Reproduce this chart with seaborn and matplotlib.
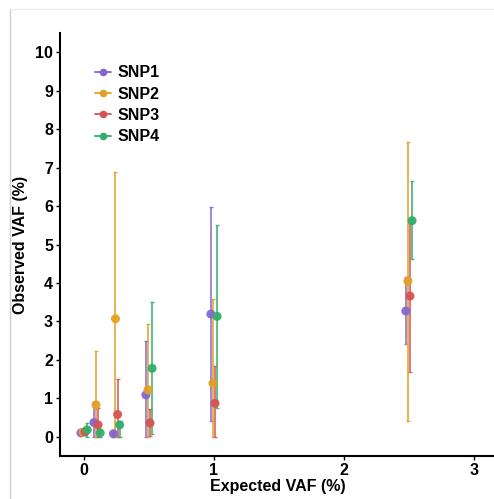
import numpy as np
import pandas as pd
import matplotlib
matplotlib.use("Agg")
import matplotlib.pyplot as plt
from matplotlib.lines import Line2D
import seaborn as sns

# Expected VAF levels (%) and the four SNPs
expected = [0, 0.1, 0.25, 0.5, 1, 2.5]
snps = ["SNP1", "SNP2", "SNP3", "SNP4"]

# Observed VAF (%) means, lower and upper limits per SNP
snp1_mean = [0.10, 0.37, 0.08, 1.09, 3.19, 3.27]
snp1_low = [0.05, 0.00, 0.00, 0.00, 0.42, 2.41]
snp1_high = [0.15, 0.90, 0.12, 2.48, 5.98, 4.16]

snp2_mean = [0.12, 0.83, 3.07, 1.22, 1.39, 4.05]
snp2_low = [0.05, 0.00, 0.00, 0.00, 0.00, 0.42]
snp2_high = [0.18, 2.23, 6.88, 2.93, 3.59, 7.67]

snp3_mean = [0.13, 0.31, 0.58, 0.36, 0.87, 3.66]
snp3_low = [0.05, 0.00, 0.00, 0.03, 0.00, 1.68]
snp3_high = [0.20, 0.75, 1.50, 0.72, 1.84, 5.55]

snp4_mean = [0.18, 0.10, 0.31, 1.78, 3.13, 5.62]
snp4_low = [0.00, 0.00, 0.00, 0.08, 0.75, 4.62]
snp4_high = [0.35, 0.20, 0.40, 3.51, 5.52, 6.65]

y_ticks = [0, 1, 2, 3, 4, 5, 6, 7, 8, 9, 10]
x_ticks = [0, 1, 2, 3]

palette = {"SNP1": "#8766CF", "SNP2": "#E1A225", "SNP3": "#D65353", "SNP4": "#33AE6A"}

means = [snp1_mean, snp2_mean, snp3_mean, snp4_mean]
lows = [snp1_low, snp2_low, snp3_low, snp4_low]
highs = [snp1_high, snp2_high, snp3_high, snp4_high]

rows = []
dodge_step = 0.016
for i, snp in enumerate(snps):
    off = (i - 1.5) * dodge_step
    for j, ev in enumerate(expected):
        rows.append({"snp": snp, "expected": ev, "x": ev + off,
                     "obs": means[i][j], "low": lows[i][j], "high": highs[i][j]})
df = pd.DataFrame(rows)

sns.set_theme(style="white")
plt.rcParams["font.family"] = ["Liberation Sans", "DejaVu Sans"]
plt.rcParams["font.weight"] = "bold"
for key in ["text.color", "axes.labelcolor", "xtick.color", "ytick.color"]:
    plt.rcParams[key] = "black"

fig = plt.figure(figsize=(4.94, 4.99), dpi=100)
W, H = 494, 499
ax = fig.add_axes([60 / W, 1 - 456 / H, 436 / W, (456 - 33) / H])

# outer frame lines of the panel
fig.add_artist(Line2D([10 / W, 10 / W], [0, 1 - 9 / H], transform=fig.transFigure,
                      color="#cfcfcf", lw=1.0))
fig.add_artist(Line2D([10 / W, 1.01], [1 - 9 / H, 1 - 9 / H], transform=fig.transFigure,
                      color="#ececec", lw=1.0))

for snp in snps:
    d = df[df["snp"] == snp]
    ax.errorbar(d["x"], d["obs"],
                yerr=[d["obs"] - d["low"], d["high"] - d["obs"]],
                fmt="none", ecolor=palette[snp], elinewidth=1.3, capsize=1.6,
                capthick=1.0, alpha=0.85, zorder=2)

sns.scatterplot(data=df, x="x", y="obs", hue="snp", palette=palette,
                s=42, edgecolor="none", alpha=0.95, legend=False, ax=ax, zorder=3)

ax.set_xlim(-0.185, 3.17)
ax.set_ylim(-0.5, 10.5)
ax.set_xticks(x_ticks)
ax.set_xticklabels([str(t) for t in x_ticks])
ax.set_yticks(y_ticks)
ax.set_yticklabels([str(t) for t in y_ticks])
ax.tick_params(axis="both", labelsize=11.5, length=3, width=1, colors="black",
               direction="out", bottom=True, left=True, pad=2)
for lab in ax.get_xticklabels() + ax.get_yticklabels():
    lab.set_fontweight("bold")
ax.set_xlabel("Expected VAF (%)", fontsize=11.5, fontweight="bold", labelpad=1,
              color="black")
ax.set_ylabel("Observed VAF (%)", fontsize=11.5, fontweight="bold", labelpad=5,
              color="black")

sns.despine(ax=ax)
for side in ["left", "bottom"]:
    ax.spines[side].set_color("black")
    ax.spines[side].set_linewidth(1.5)

handles = [Line2D([0], [0], color=palette[s], lw=1.3, marker="o", markersize=5.5,
                  markeredgecolor="none") for s in snps]
leg = ax.legend(handles, snps, loc="upper left", bbox_to_anchor=(0.048, 0.958),
                frameon=False, handlelength=1.0, handletextpad=0.4,
                labelspacing=0.4, prop={"weight": "bold", "size": 11.5})
for t in leg.get_texts():
    t.set_color("black")

fig.savefig("out.png", dpi=100)
